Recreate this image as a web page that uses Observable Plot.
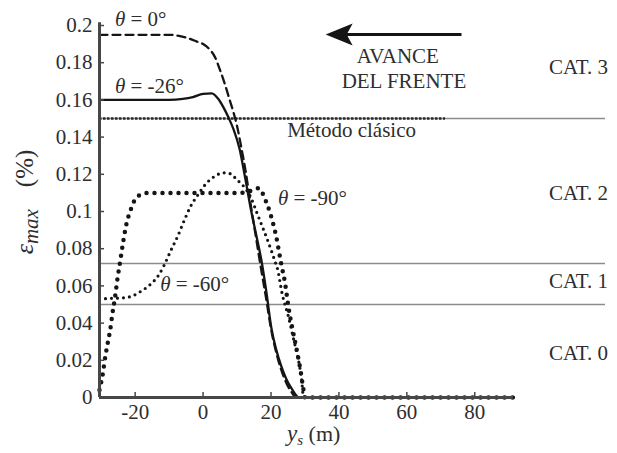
<!DOCTYPE html>
<html><head><meta charset="utf-8">
<script src="https://cdn.jsdelivr.net/npm/d3@7"></script>
<script src="https://cdn.jsdelivr.net/npm/@observablehq/plot@0.6"></script>
<style>
body{margin:0;background:#fff;}
</style></head><body><div id="chart"></div>
<script>
// ---- data ----
const xTicks = [-20, 0, 20, 40, 60, 80];
const yTicks = [0, 0.02, 0.04, 0.06, 0.08, 0.1, 0.12, 0.14, 0.16, 0.18, 0.2];
const catLevels = [0.15, 0.072, 0.05];
const catLabels = ["CAT. 3", "CAT. 2", "CAT. 1", "CAT. 0"];
const catLabelY = [0.1737, 0.1059, 0.0586, 0.0199];
const classicLevel = 0.15;
const classicEnd = 71.4;

const theta0X = [-30.5, -20, -10, -5, -2, 0, 2, 3.5, 5, 6.5, 8, 9, 10, 11.3, 12.5, 14, 15.5, 17, 18.5, 20, 22, 24, 26, 27.5, 35, 50, 70, 91.5];
const theta0Y = [0.195, 0.195, 0.195, 0.1935, 0.1915, 0.19, 0.187, 0.183, 0.176, 0.168, 0.159, 0.153, 0.146, 0.134, 0.122, 0.104, 0.087, 0.07, 0.054, 0.037, 0.021, 0.01, 0.003, 0, 0, 0, 0, 0];

const theta26X = [-30.5, -20, -10, -6, -3, 0, 2.5, 4.5, 6, 7.5, 9, 10.7, 12.5, 14.2, 15.7, 17.2, 18.7, 20.1, 21.5, 23, 24.5, 26, 28.3, 35, 50, 70, 91.5];
const theta26Y = [0.16, 0.16, 0.16, 0.1605, 0.1615, 0.1632, 0.1635, 0.1605, 0.156, 0.1505, 0.144, 0.134, 0.117, 0.1, 0.087, 0.0735, 0.056, 0.0375, 0.026, 0.017, 0.01, 0.005, 0, 0, 0, 0, 0];

const theta90X = [-30.5, -29.6, -28.7, -28, -27.3, -26.7, -26, -25.2, -24.3, -23.5, -22.6, -21.3, -20.2, -18.5, -16, -10, 0, 10, 13, 16.4, 18.4, 19.6, 20.7, 21.6, 22.3, 23.1, 24, 25.2, 26.2, 27.2, 28.7, 29.5, 30, 40, 60, 80, 91.5];
const theta90Y = [0.004, 0.012, 0.023, 0.03, 0.037, 0.045, 0.053, 0.064, 0.0745, 0.084, 0.093, 0.101, 0.106, 0.109, 0.11, 0.11, 0.11, 0.11, 0.1105, 0.1125, 0.106, 0.1, 0.093, 0.086, 0.079, 0.071, 0.063, 0.048, 0.038, 0.029, 0.0145, 0.005, 0, 0, 0, 0, 0];

const theta60X = [-30.5, -27, -23.4, -20.5, -18.4, -15.4, -13, -11.5, -9.5, -7.4, -5.6, -3.6, -1.5, 0.9, 3.5, 6, 8, 10, 11.5, 14.2, 15.7, 17.2, 18.7, 20.1, 21.4, 21.8, 23.3, 25.2, 26.7, 28.1, 29, 29.6, 40, 60, 80, 91.5];
const theta60Y = [0.053, 0.0533, 0.0536, 0.0548, 0.057, 0.061, 0.066, 0.071, 0.079, 0.087, 0.095, 0.103, 0.109, 0.115, 0.119, 0.1208, 0.1203, 0.117, 0.1145, 0.107, 0.1, 0.093, 0.086, 0.079, 0.072, 0.07, 0.0557, 0.043, 0.031, 0.02, 0.01, 0, 0, 0, 0, 0];

// annotation anchors (data units)
const xMin = -30.5, xMax = 118.5, xAxisEnd = 91.4, yAxisTop = 0.2015;
const arrowTail = 76.1, arrowTip = 36.1, arrowLevel = 0.1952;
const thetaLabels = [
  {x: -25.8, y: 0.1995, text: "0°"},
  {x: -25.8, y: 0.1634, text: "-26°"},
  {x: 22.2, y: 0.1032, text: "-90°"},
  {x: -12.5, y: 0.057, text: "-60°"}
];
const classicLabel = {x: 24.9, y: 0.1398, text: "Método clásico"};
const advanceLabels = [
  {x: 57.5, y: 0.1796, text: "AVANCE"},
  {x: 59.3, y: 0.1661, text: "DEL FRENTE"}
];
const catLabelX = 102;

// ---- chart ----
const line = (X, Y) => X.map((x, i) => ({x, y: Y[i]}));
const headSymbol = {draw(ctx) {ctx.moveTo(0, 0); ctx.lineTo(27, -11); ctx.lineTo(21, 0); ctx.lineTo(27, 11); ctx.closePath();}};
const ink = "#151515", textCol = "#2e2e2e", axisCol = "#474747";

const plot = Plot.plot({
  width: 617, height: 453,
  marginLeft: 99, marginRight: 12, marginTop: 25, marginBottom: 56,
  x: {domain: [xMin, xMax]},
  y: {domain: [0, 0.2]},
  style: {fontFamily: "'Liberation Serif', serif", fontSize: "21px", color: textCol, background: "white"},
  marks: [
    Plot.ruleY(catLevels, {x1: xMin, x2: xMax, stroke: "#8c8c8c", strokeWidth: 1.5}),
    Plot.ruleY([classicLevel], {x1: xMin, x2: classicEnd, stroke: "#2a2a2a", strokeWidth: 2.4, strokeDasharray: "2.5 1.5"}),
    Plot.line(line(theta60X, theta60Y), {x: "x", y: "y", curve: "monotone-x", stroke: ink, strokeWidth: 3.2, strokeDasharray: "0 6", strokeLinecap: "round"}),
    Plot.line(line(theta90X, theta90Y), {x: "x", y: "y", curve: "monotone-x", stroke: ink, strokeWidth: 4.5, strokeDasharray: "0 8", strokeLinecap: "round"}),
    Plot.line(line(theta0X, theta0Y), {x: "x", y: "y", curve: "monotone-x", stroke: ink, strokeWidth: 2.3, strokeDasharray: "8 5"}),
    Plot.line(line(theta26X, theta26Y), {x: "x", y: "y", curve: "monotone-x", stroke: ink, strokeWidth: 2.3}),
    Plot.axisX({ticks: xTicks, tickSize: -5, tickPadding: 12, tickFormat: d => String(d), label: null, stroke: axisCol, strokeWidth: 1.5}),
    Plot.axisY({ticks: yTicks, tickSize: -5, tickPadding: 12, tickFormat: d3.format("~g"), label: null, stroke: axisCol, strokeWidth: 1.5}),
    Plot.ruleY([0], {x1: xMin, x2: xAxisEnd, stroke: axisCol, strokeWidth: 3}),
    Plot.ruleX([xMin], {y1: 0, y2: yAxisTop, stroke: axisCol, strokeWidth: 3}),
    Plot.link([0], {x1: arrowTail, x2: arrowTip + 5, y1: arrowLevel, y2: arrowLevel, stroke: ink, strokeWidth: 3}),
    Plot.dot([0], {x: arrowTip, y: arrowLevel, symbol: headSymbol, fill: ink, stroke: "none"})
  ]
});
document.getElementById("chart").append(plot);

// ---- text annotations positioned by the plot's scales ----
const svg = d3.select(plot);
const sx = plot.scale("x"), sy = plot.scale("y");
const g = svg.append("g").attr("fill", textCol).attr("font-family", "'Liberation Serif', serif").attr("font-size", 21).attr("text-anchor", "start");

thetaLabels.forEach(d => {
  const t = g.append("text").attr("x", sx.apply(d.x)).attr("y", sy.apply(d.y));
  t.append("tspan").attr("font-style", "italic").text("θ");
  t.append("tspan").text(" = " + d.text);
});
g.append("text").attr("x", sx.apply(classicLabel.x)).attr("y", sy.apply(classicLabel.y)).text(classicLabel.text);
advanceLabels.forEach(d => {
  g.append("text").attr("x", sx.apply(d.x)).attr("y", sy.apply(d.y)).attr("text-anchor", "middle").text(d.text);
});
catLabels.forEach((c, i) => {
  g.append("text").attr("x", sx.apply(catLabelX)).attr("y", sy.apply(catLabelY[i])).text(c);
});

// y-axis label
const yl = g.append("text").attr("transform", "translate(33,202) rotate(-90)").attr("text-anchor", "middle");
yl.append("tspan").attr("font-style", "italic").attr("font-size", 26).text("ε");
yl.append("tspan").attr("font-style", "italic").attr("font-size", 21).attr("dy", 5).text("max");
yl.append("tspan").attr("font-size", 25).attr("dy", -5).attr("dx", 22).text("(%)");

// x-axis label
const xl = g.append("text").attr("x", 287).attr("y", 441);
xl.append("tspan").attr("font-style", "italic").attr("font-size", 23).text("y");
xl.append("tspan").attr("font-style", "italic").attr("font-size", 15).attr("dy", 4).text("s");
xl.append("tspan").attr("font-size", 22).attr("dy", -4).text(" (m)");
</script></body></html>
